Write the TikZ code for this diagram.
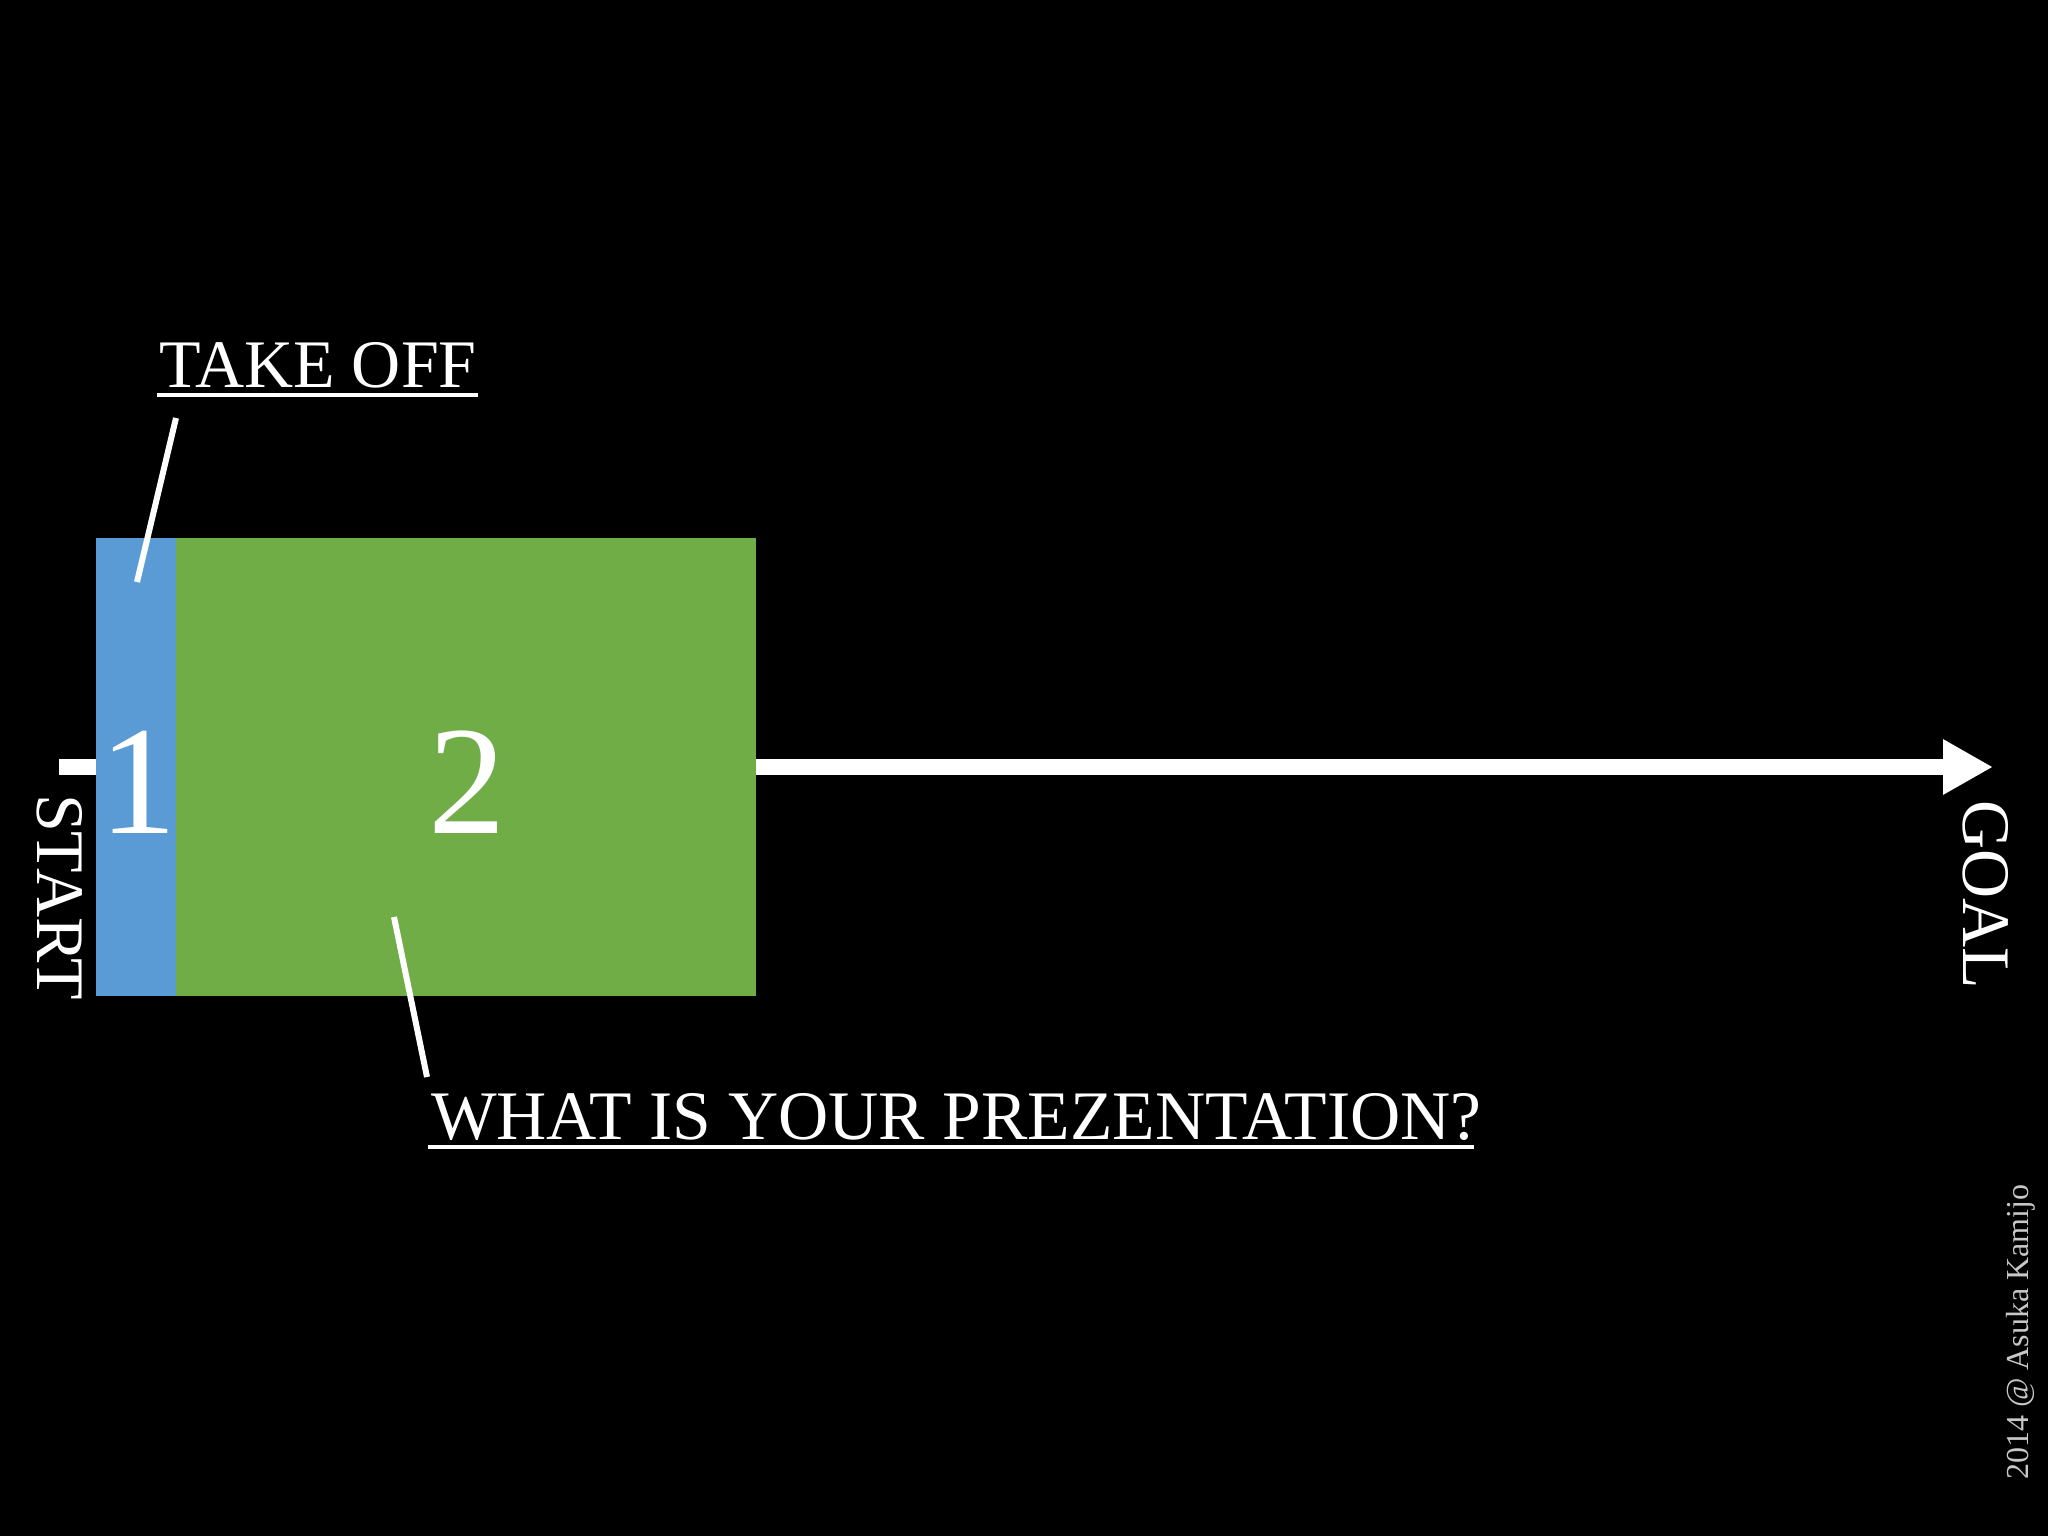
\documentclass[tikz,border=0pt]{standalone}
\usepackage{fontspec}
\setmainfont{Liberation Serif}
\usetikzlibrary{arrows.meta}
\definecolor{boxblue}{HTML}{5B9BD5}
\definecolor{boxgreen}{HTML}{70AD47}
\definecolor{credit}{HTML}{C8C8C8}
\tikzset{
  bigtext/.style={text=white, inner sep=0pt, font=\fontsize{68}{80}\selectfont},
  digit/.style={text=white, inner sep=0pt, font=\fontsize{155}{170}\selectfont},
  pointer/.style={draw=white, line width=6pt},
  uline/.style={draw=white, line width=3.5pt},
  phase/.style={draw=none, inner sep=0pt, anchor=north west}
}
\begin{document}
\begin{tikzpicture}[x=1pt,y=-1pt]
\fill[black] (0,0) rectangle (2048,1536);
\useasboundingbox (0,0) rectangle (2048,1536);
% timeline
\coordinate (startpt) at (59,767);
\coordinate (goalpt) at (1993,767);
\draw[white, line width=16pt, -{Triangle[length=50pt,width=52pt]}] (startpt) -- (goalpt);
% phases
\node[phase, fill=boxblue, minimum width=80pt, minimum height=458pt] (takeoff) at (96,538) {};
\node[phase, fill=boxgreen, minimum width=580pt, minimum height=458pt] (body) at (176,538) {};
\node[digit] (one) at (138,782) {1};
\node[digit] (two) at (467,782) {2};
% labels
\node[bigtext, rotate=-90] (start) at (60,897) {START};
\node[bigtext, rotate=-90] (goal) at (1986,895) {GOAL};
\node[bigtext, anchor=base west] (tko) at (159,387) {TAKE OFF};
\draw[uline] (157,395) -- (478,395);
\node[bigtext, anchor=base west, font=\fontsize{69.5}{80}\selectfont] (what) at (431,1139) {WHAT IS YOUR PREZENTATION?};
\draw[uline] (428,1147) -- (1474,1147);
% pointers
\coordinate (p1a) at (176,418);
\coordinate (p1b) at (137,582);
\draw[pointer] (p1a) -- (p1b);
\coordinate (p2a) at (394,917);
\coordinate (p2b) at (427,1077);
\draw[pointer] (p2a) -- (p2b);
% credit
\node[text=credit, inner sep=0pt, rotate=90, font=\fontsize{32}{36}\selectfont] (copy) at (2021,1332) {2014 @ Asuka Kamijo};
\end{tikzpicture}
\end{document}
